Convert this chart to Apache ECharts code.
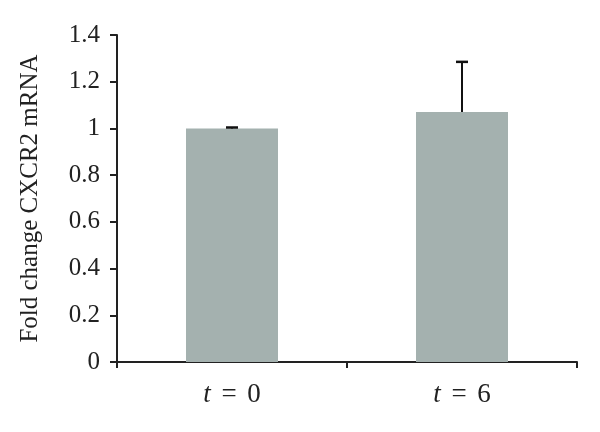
<!DOCTYPE html>
<html>
<head>
<meta charset="utf-8">
<script src="https://cdn.jsdelivr.net/npm/echarts@6/dist/echarts.min.js"></script>
<style>html,body{margin:0;padding:0;background:#fff}#c{width:600px;height:432px}</style>
</head>
<body>
<div id="c"></div>
<script>
var categories = ['t = 0', 't = 6'];
var means = [1.0, 1.07];
var upperErrors = [0.004, 0.215];
var yTicks = { min: 0, max: 1.4, interval: 0.2 };
var yTitle = 'Fold change CXCR2 mRNA';

var chart = echarts.init(document.getElementById('c'));
var serif = '"Liberation Serif", "DejaVu Serif", serif';
var errData = means.map(function (m, i) { return [i, m, m + upperErrors[i]]; });

chart.setOption({
  animation: false,
  grid: { left: 117, right: 23, top: 35, bottom: 70 },
  xAxis: {
    type: 'category',
    data: categories,
    axisLine: { lineStyle: { color: '#222', width: 2 } },
    axisTick: { show: true, length: 6, lineStyle: { color: '#222', width: 2 } },
    axisLabel: {
      margin: 19,
      fontFamily: serif,
      fontSize: 27,
      color: '#222',
      formatter: function (v) {
        var parts = v.split(' ');
        return '{i|' + parts[0] + '} {e|' + parts[1] + '} ' + parts[2];
      },
      rich: {
        i: { fontStyle: 'italic', fontFamily: serif, fontSize: 27, color: '#222' },
        e: { fontFamily: serif, fontSize: 27, color: '#222', padding: [0, 4] }
      }
    }
  },
  yAxis: {
    type: 'value',
    min: yTicks.min, max: yTicks.max, interval: yTicks.interval,
    name: yTitle,
    nameLocation: 'middle',
    nameGap: 74,
    nameTextStyle: { fontFamily: serif, fontSize: 25, color: '#222' },
    axisLine: { show: true, lineStyle: { color: '#222', width: 2 } },
    axisTick: { show: true, length: 7, lineStyle: { color: '#222', width: 2 } },
    splitLine: { show: false },
    axisLabel: { margin: 17, fontFamily: serif, fontSize: 25, color: '#222' }
  },
  series: [
    {
      type: 'bar',
      data: means,
      barWidth: '40%',
      itemStyle: { color: '#a4b1af' }
    },
    {
      type: 'custom',
      data: errData,
      z: 10,
      renderItem: function (params, api) {
        var x = api.value(0);
        var lo = api.coord([x, api.value(1)]);
        var hi = api.coord([x, api.value(2)]);
        var hw = 6;
        return {
          type: 'group',
          children: [
            { type: 'line', shape: { x1: lo[0], y1: lo[1], x2: hi[0], y2: hi[1] }, style: { stroke: '#111', lineWidth: 2 } },
            { type: 'line', shape: { x1: hi[0] - hw, y1: hi[1], x2: hi[0] + hw, y2: hi[1] }, style: { stroke: '#111', lineWidth: 2.5 } }
          ]
        };
      }
    }
  ]
});
</script>
</body>
</html>
